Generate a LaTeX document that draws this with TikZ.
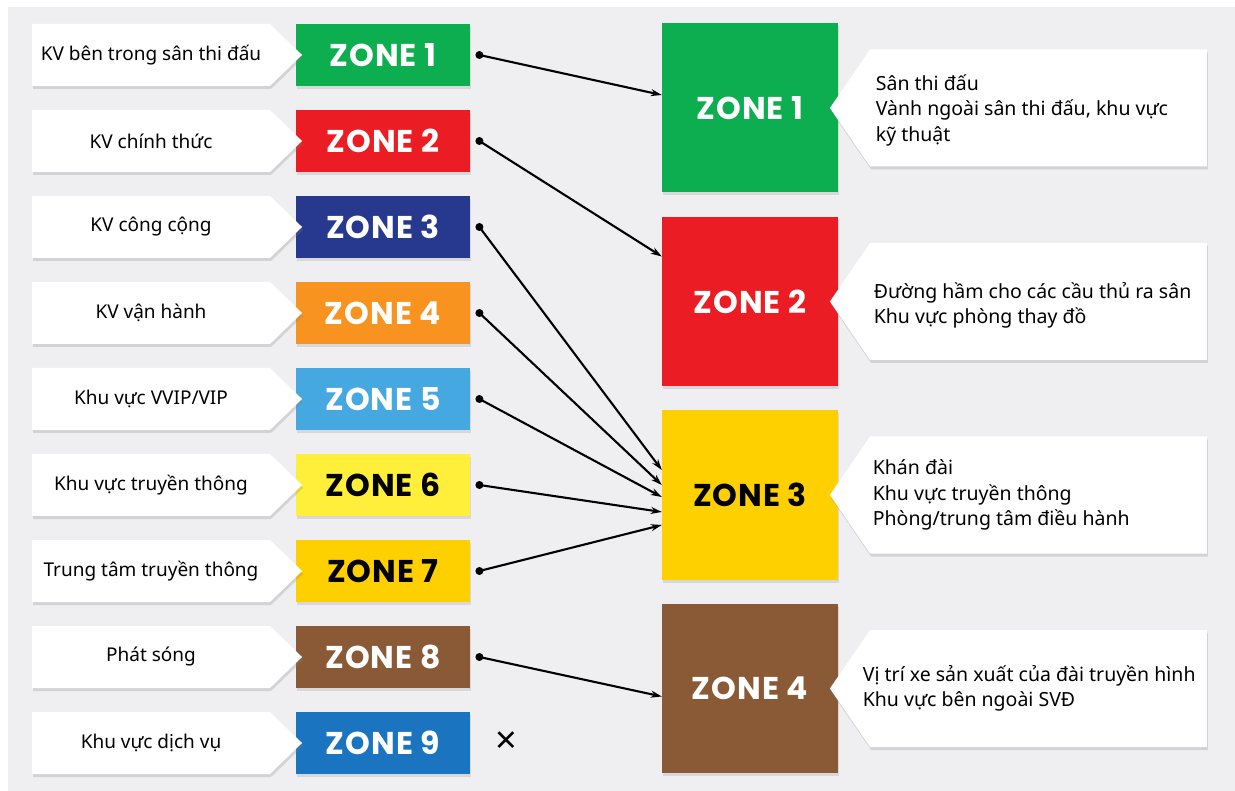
\documentclass[tikz,border=0pt]{standalone}
\usepackage{fontspec}
\setmainfont{Noto Sans}
\newfontfamily\zonefont{Poppins}[LetterSpace=3.0]
\usetikzlibrary{positioning, shapes.symbols, shadows, arrows.meta}

\definecolor{bggray}{HTML}{EFEFF2}
\definecolor{zgreen}{HTML}{0DAE4F}
\definecolor{zred}{HTML}{EC1C24}
\definecolor{znavy}{HTML}{27398F}
\definecolor{zorange}{HTML}{F7931E}
\definecolor{zsky}{HTML}{45A8E0}
\definecolor{zlemon}{HTML}{FFEE3A}
\definecolor{zgold}{HTML}{FFD000}
\definecolor{zbrown}{HTML}{8A5A36}
\definecolor{zblue}{HTML}{1B74C0}

\begin{document}
\begin{tikzpicture}[x=1pt, y=-1pt, node distance=86pt, on grid]
    \tikzset{
        zone/.style={minimum width=174pt, minimum height=62pt, inner sep=0pt, text=white,
            font=\zonefont\bfseries\fontsize{31.5}{34}\selectfont,
            drop shadow={shadow xshift=1pt, shadow yshift=-3pt, opacity=.2}},
        bigzone/.style={zone, minimum width=176pt, minimum height=169pt},
        tag/.style={signal, signal to=east, signal pointer angle=88, fill=white,
            minimum width=270pt, minimum height=62pt, inner sep=0pt,
            font=\fontsize{19}{22}\selectfont,
            drop shadow={shadow xshift=1pt, shadow yshift=-3pt, opacity=.25}},
        callout/.style={signal, signal to=west, signal pointer angle=111, fill=white,
            minimum width=377pt, minimum height=117pt, inner sep=0pt,
            drop shadow={shadow xshift=1pt, shadow yshift=-3pt, opacity=.25}},
        desc/.style={anchor=west, align=left, inner sep=0pt, font=\fontsize{19.5}{25.5}\selectfont},
        dot/.style={circle, fill=black, minimum size=8pt, inner sep=0pt},
        link/.style={-{Stealth[length=11pt, width=7pt]}, line width=2.1pt}
    }
    % page and grey panel
    \useasboundingbox (0,0) rectangle (1235,791);
    \fill[white] (0,0) rectangle (1235,791);
    \fill[bggray] (8,7) rectangle (1235,791);

    % small zones
    \node[zone, fill=zgreen] (z1) at (383,55) {ZONE 1};
    \node[zone, fill=zred] (z2) [below=of z1] {ZONE 2};
    \node[zone, fill=znavy] (z3) [below=of z2] {ZONE 3};
    \node[zone, fill=zorange] (z4) [below=of z3] {ZONE 4};
    \node[zone, fill=zsky] (z5) [below=of z4] {ZONE 5};
    \node[zone, fill=zlemon, text=black] (z6) [below=of z5] {ZONE 6};
    \node[zone, fill=zgold, text=black] (z7) [below=of z6] {ZONE 7};
    \node[zone, fill=zbrown] (z8) [below=of z7] {ZONE 8};
    \node[zone, fill=zblue] (z9) [below=of z8] {ZONE 9};

    % tags on the left
    \node[tag] (t1) [left=232pt of z1] {KV bên trong sân thi đấu};
    \node[tag] (t2) [left=232pt of z2] {KV chính thức};
    \node[tag] (t3) [left=232pt of z3] {KV công cộng};
    \node[tag] (t4) [left=232pt of z4] {KV vận hành};
    \node[tag] (t5) [left=232pt of z5] {Khu vực VVIP/VIP};
    \node[tag] (t6) [left=232pt of z6] {Khu vực truyền thông};
    \node[tag] (t7) [left=232pt of z7] {Trung tâm truyền thông};
    \node[tag] (t8) [left=232pt of z8] {Phát sóng};
    \node[tag] (t9) [left=232pt of z9] {Khu vực dịch vụ};

    % big zones
    \node[bigzone, fill=zgreen] (b1) at (750,108) {ZONE 1};
    \node[bigzone, fill=zred] (b2) [below=193.5pt of b1] {ZONE 2};
    \node[bigzone, fill=zgold, text=black] (b3) [below=193.5pt of b2] {ZONE 3};
    \node[bigzone, fill=zbrown] (b4) [below=193.5pt of b3] {ZONE 4};

    % callouts on the right
    \node[callout] (c1) [right=288.5pt of b1] {};
    \node[callout] (c2) [right=288.5pt of b2] {};
    \node[callout] (c3) [right=288.5pt of b3] {};
    \node[callout] (c4) [right=288.5pt of b4] {};
    \node[desc] (s1) at ([xshift=46pt, yshift=-2pt]c1.west) {Sân thi đấu\\Vành ngoài sân thi đấu, khu vực\\kỹ thuật};
    \node[desc] (s2) at ([xshift=44pt, yshift=-4pt]c2.west) {Đường hầm cho các cầu thủ ra sân\\Khu vực phòng thay đồ};
    \node[desc] (s3) at ([xshift=43pt]c3.west) {Khán đài\\Khu vực truyền thông\\Phòng/trung tâm điều hành};
    \node[desc] (s4) at ([xshift=33pt]c4.west) {Vị trí xe sản xuất của đài truyền hình\\Khu vực bên ngoài SVĐ};

    % links
    \node[dot] (d1) [right=5pt of z1.east] {};
    \node[dot] (d2) [right=5pt of z2.east] {};
    \node[dot] (d3) [right=5pt of z3.east] {};
    \node[dot] (d4) [right=5pt of z4.east] {};
    \node[dot] (d5) [right=5pt of z5.east] {};
    \node[dot] (d6) [right=5pt of z6.east] {};
    \node[dot] (d7) [right=5pt of z7.east] {};
    \node[dot] (d8) [right=5pt of z8.east] {};
    \node[font=\fontsize{38}{40}\selectfont, inner sep=0pt] (x9) [right=25pt of z9.east] {×};

    \draw[link] (d1.center) -- ([yshift=13pt]b1.west);
    \draw[link] (d2.center) -- ([yshift=45pt]b2.west);
    \draw[link] (d3.center) -- ([yshift=25pt]b3.west);
    \draw[link] (d4.center) -- ([yshift=10pt]b3.west);
    \draw[link] (d5.center) -- ([yshift=-2pt]b3.west);
    \draw[link] (d6.center) -- ([yshift=-17pt]b3.west);
    \draw[link] (d7.center) -- ([yshift=-30pt]b3.west);
    \draw[link] (d8.center) -- ([yshift=-8pt]b4.west);
\end{tikzpicture}
\end{document}
